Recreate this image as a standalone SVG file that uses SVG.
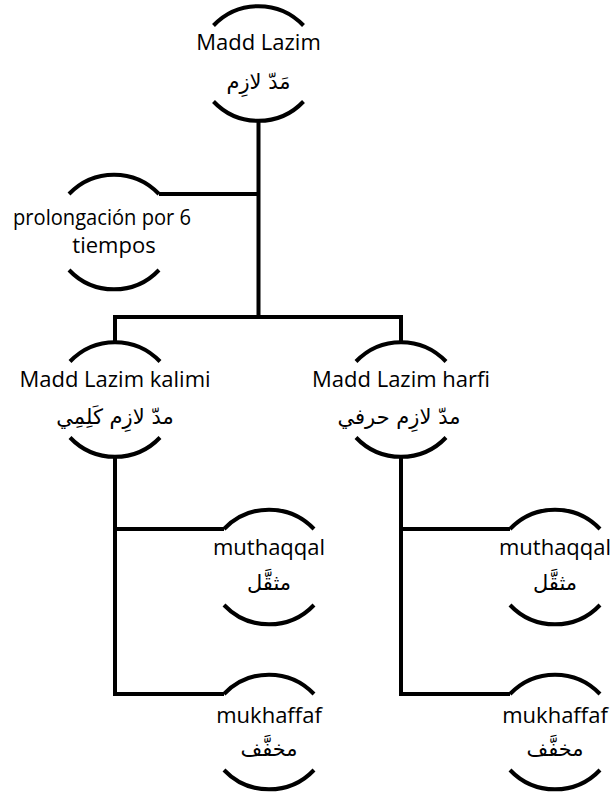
<svg xmlns="http://www.w3.org/2000/svg" width="615" height="794" viewBox="0 0 615 794">
  <style>
    .lat { font-family: "Open Sans", "Noto Sans", sans-serif; font-size: 22px; fill: #000; text-anchor: middle; }
    .ar { font-family: "DejaVu Sans", sans-serif; font-size: 21px; fill: #000; text-anchor: middle; direction: rtl; unicode-bidi: embed; }
    .arc, .link { fill: none; stroke: #000; stroke-width: 4; }
    .link { stroke-linejoin: miter; }
  </style>
  <defs>
    <!-- node outline: an upper and a lower arc around a centre at (0,0) -->
    <path id="cap-top" d="M-45 -38 A62 62 0 0 1 45 -38"/>
    <path id="cap-bot" d="M-45 38 A62 62 0 0 0 45 38"/>
  </defs>
  <rect width="615" height="794" fill="#fff"/>

  <g id="connectors">
    <path class="link" d="M258.5 121 V317"/>
    <path class="link" d="M159 194 H258.5"/>
    <path class="link" d="M115 342 V317 H401 V342"/>
    <path class="link" d="M115 457 V694 H224"/>
    <path class="link" d="M115 529 H224"/>
    <path class="link" d="M401 457 V694 H510"/>
    <path class="link" d="M401 529 H510"/>
  </g>

  <g id="madd-lazim" transform="translate(258.5 63.5)">
    <use href="#cap-top" class="arc"/>
    <use href="#cap-bot" class="arc"/>
    <text class="lat" x="0" y="-13.5">Madd Lazim</text>
    <text class="ar" x="0" y="25">مَدّ لازِم</text>
  </g>

  <g id="prolongacion" transform="translate(114 232)">
    <use href="#cap-top" class="arc"/>
    <use href="#cap-bot" class="arc"/>
    <text class="lat" x="-12" y="-7" textLength="178" lengthAdjust="spacingAndGlyphs">prolongación por 6</text>
    <text class="lat" x="0" y="21">tiempos</text>
  </g>

  <g id="kalimi" transform="translate(115 399.5)">
    <use href="#cap-top" class="arc"/>
    <use href="#cap-bot" class="arc"/>
    <text class="lat" x="0" y="-12.5">Madd Lazim kalimi</text>
    <text class="ar" x="0" y="24">مدّ لازِم كَلِمِي</text>
  </g>

  <g id="harfi" transform="translate(401 399.5)">
    <use href="#cap-top" class="arc"/>
    <use href="#cap-bot" class="arc"/>
    <text class="lat" x="0" y="-12.5">Madd Lazim harfi</text>
    <text class="ar" x="-2" y="24">مدّ لازِم حرفي</text>
  </g>

  <g id="kalimi-muthaqqal" transform="translate(269 567)">
    <use href="#cap-top" class="arc"/>
    <use href="#cap-bot" class="arc"/>
    <text class="lat" x="0" y="-12">muthaqqal</text>
    <text class="ar" x="0" y="23">مثقَّل</text>
  </g>

  <g id="kalimi-mukhaffaf" transform="translate(269 732)">
    <use href="#cap-top" class="arc"/>
    <use href="#cap-bot" class="arc"/>
    <text class="lat" x="0" y="-9">mukhaffaf</text>
    <text class="ar" x="0" y="24">مخفَّف</text>
  </g>

  <g id="harfi-muthaqqal" transform="translate(555 567)">
    <use href="#cap-top" class="arc"/>
    <use href="#cap-bot" class="arc"/>
    <text class="lat" x="0" y="-12">muthaqqal</text>
    <text class="ar" x="0" y="23">مثقَّل</text>
  </g>

  <g id="harfi-mukhaffaf" transform="translate(555 732)">
    <use href="#cap-top" class="arc"/>
    <use href="#cap-bot" class="arc"/>
    <text class="lat" x="0" y="-9">mukhaffaf</text>
    <text class="ar" x="0" y="24">مخفَّف</text>
  </g>
</svg>
